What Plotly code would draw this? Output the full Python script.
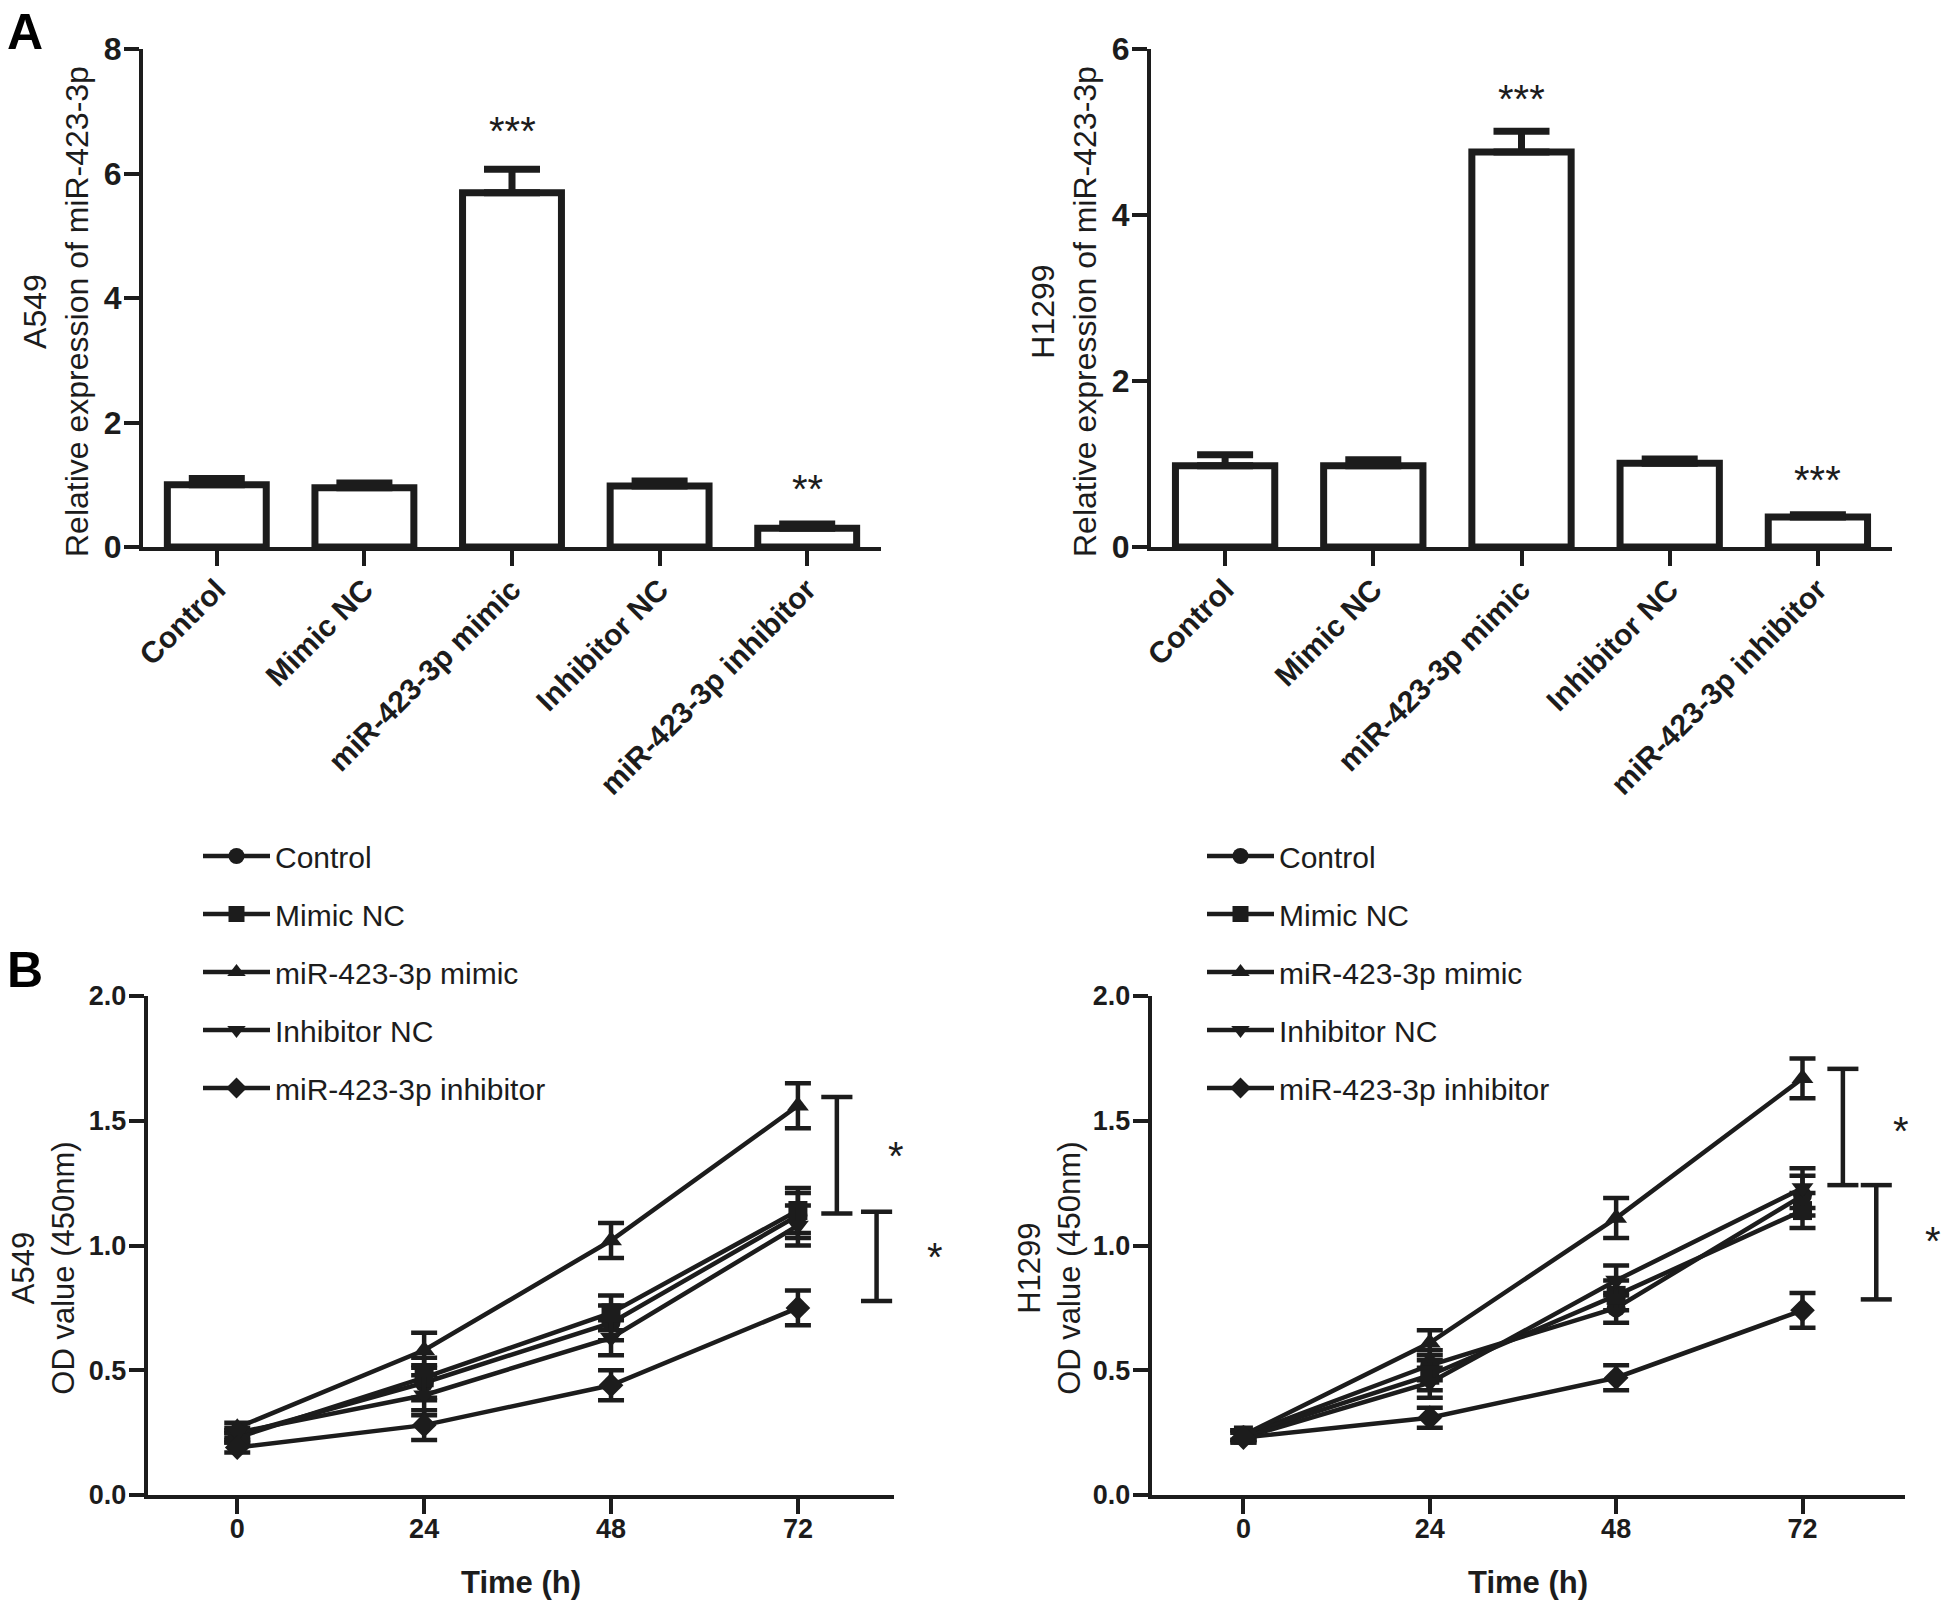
import plotly.graph_objects as go

INK = "#1c1c1c"
FONT = "Liberation Sans, Arial, sans-serif"

# ---------------- Panel A data ----------------
bar_categories = ["Control", "Mimic NC", "miR-423-3p mimic", "Inhibitor NC", "miR-423-3p inhibitor"]
a549_expr = [1.00, 0.95, 5.69, 0.98, 0.30]
a549_expr_err = [0.10, 0.08, 0.38, 0.08, 0.07]
h1299_expr = [0.98, 0.98, 4.76, 1.01, 0.36]
h1299_expr_err = [0.13, 0.07, 0.25, 0.05, 0.03]
# significance marks above bars: (category, y position, text)
a549_stars = [("miR-423-3p mimic", 6.68, "***"), ("miR-423-3p inhibitor", 0.93, "**")]
h1299_stars = [("miR-423-3p mimic", 5.40, "***"), ("miR-423-3p inhibitor", 0.81, "***")]

# ---------------- Panel B data ----------------
time_h = [0, 24, 48, 72]
series_names = ["Control", "Mimic NC", "miR-423-3p mimic", "Inhibitor NC", "miR-423-3p inhibitor"]
series_symbols = ["circle", "square", "triangle-up", "triangle-down", "diamond"]

a549_od = {
    "Control": [0.24, 0.45, 0.69, 1.12],
    "Mimic NC": [0.23, 0.47, 0.73, 1.14],
    "miR-423-3p mimic": [0.27, 0.58, 1.02, 1.56],
    "Inhibitor NC": [0.25, 0.40, 0.63, 1.08],
    "miR-423-3p inhibitor": [0.19, 0.28, 0.44, 0.75],
}
a549_od_err = {
    "Control": [0.02, 0.07, 0.07, 0.09],
    "Mimic NC": [0.02, 0.08, 0.07, 0.09],
    "miR-423-3p mimic": [0.02, 0.07, 0.07, 0.09],
    "Inhibitor NC": [0.02, 0.08, 0.07, 0.08],
    "miR-423-3p inhibitor": [0.02, 0.06, 0.06, 0.07],
}
h1299_od = {
    "Control": [0.24, 0.52, 0.75, 1.20],
    "Mimic NC": [0.24, 0.48, 0.80, 1.14],
    "miR-423-3p mimic": [0.24, 0.61, 1.11, 1.67],
    "Inhibitor NC": [0.23, 0.45, 0.86, 1.23],
    "miR-423-3p inhibitor": [0.23, 0.31, 0.47, 0.74],
}
h1299_od_err = {
    "Control": [0.02, 0.06, 0.06, 0.08],
    "Mimic NC": [0.02, 0.06, 0.06, 0.07],
    "miR-423-3p mimic": [0.02, 0.05, 0.08, 0.08],
    "Inhibitor NC": [0.02, 0.06, 0.06, 0.08],
    "miR-423-3p inhibitor": [0.02, 0.04, 0.05, 0.07],
}

# significance brackets: (x, y_top, y_bottom) and stars (x, y)
a549_brackets = [(77.0, 1.595, 1.128), (82.1, 1.135, 0.778)]
a549_bracket_stars = [(84.6, 1.36), (89.6, 0.955)]
h1299_brackets = [(77.2, 1.708, 1.242), (81.5, 1.242, 0.784)]
h1299_bracket_stars = [(84.7, 1.46), (88.8, 1.02)]

W, H = 1946, 1603


def px(xp):
    return xp / W


def py(yp):
    return 1 - yp / H


fig = go.Figure()

# ---- bars ----
for vals, errs, ax in [(a549_expr, a549_expr_err, ""), (h1299_expr, h1299_expr_err, "2")]:
    fig.add_trace(go.Bar(
        x=bar_categories, y=vals, width=0.67,
        marker=dict(color="white", line=dict(color=INK, width=7)),
        error_y=dict(type="data", array=errs, arrayminus=[0] * len(errs), symmetric=False,
                     thickness=7, width=28, color=INK),
        xaxis="x" + ax, yaxis="y" + ax, showlegend=False,
    ))

# ---- growth curves ----
for data, errd, ax, leg in [(a549_od, a549_od_err, "3", "legend"), (h1299_od, h1299_od_err, "4", "legend2")]:
    for i, (name, sym) in enumerate(zip(series_names, series_symbols)):
        fig.add_trace(go.Scatter(
            x=time_h, y=data[name], name=name, mode="lines+markers",
            line=dict(color=INK, width=4.5),
            marker=dict(symbol=sym, size=19, color=INK),
            error_y=dict(type="data", array=errd[name], thickness=4.5, width=13, color=INK),
            xaxis="x" + ax, yaxis="y" + ax, legend=leg, legendgroup=leg + str(i),
        ))

axis_common = dict(showline=True, linewidth=4, linecolor=INK, ticks="outside", ticklen=15,
                   tickwidth=4, tickcolor=INK, showgrid=False, zeroline=False, automargin=False)

# panel geometry (pixels)
A_top, A_bot = 49, 547
B_top, B_bot = 996, 1495
AL = (143, 881)
AR = (1151, 1892)
BL = (147.7, 893.7)
BR = (1151.8, 1905.0)
B_LEFT_RANGE = [-11.5, 84.3]
B_RIGHT_RANGE = [-11.8, 85.2]

xcat = dict(range=[-0.5, 4.5], tickangle=-45, tickfont=dict(size=30, weight="bold"), ticklabelstandoff=-6)
ybar = dict(tickfont=dict(size=32, weight="bold"), ticklabelstandoff=-4)
xtime = dict(tickvals=time_h, tickfont=dict(size=27, weight="bold"), ticklabelstandoff=-8)
yod = dict(range=[0, 2.0], tickvals=[0, 0.5, 1.0, 1.5, 2.0], tickformat=".1f",
           tickfont=dict(size=27, weight="bold"), ticklabelstandoff=-3)

legend_common = dict(xanchor="left", yanchor="top", font=dict(size=30, color=INK),
                     bgcolor="rgba(0,0,0,0)", tracegroupgap=16, itemwidth=67)

fig.update_layout(
    width=W, height=H, autosize=False,
    margin=dict(l=0, r=0, t=0, b=0, pad=0, autoexpand=False),
    paper_bgcolor="white", plot_bgcolor="white",
    font=dict(family=FONT, color=INK),
    xaxis=dict(domain=[px(AL[0]), px(AL[1])], anchor="y", **xcat, **axis_common),
    yaxis=dict(domain=[py(A_bot), py(A_top)], anchor="x", range=[0, 8], tickvals=[0, 2, 4, 6, 8],
               **ybar, **axis_common),
    xaxis2=dict(domain=[px(AR[0]), px(AR[1])], anchor="y2", **xcat, **axis_common),
    yaxis2=dict(domain=[py(A_bot), py(A_top)], anchor="x2", range=[0, 6], tickvals=[0, 2, 4, 6],
                **ybar, **axis_common),
    xaxis3=dict(domain=[px(BL[0]), px(BL[1])], anchor="y3", range=B_LEFT_RANGE, **xtime, **axis_common),
    yaxis3=dict(domain=[py(B_bot), py(B_top)], anchor="x3", **yod, **axis_common),
    xaxis4=dict(domain=[px(BR[0]), px(BR[1])], anchor="y4", range=B_RIGHT_RANGE, **xtime, **axis_common),
    yaxis4=dict(domain=[py(B_bot), py(B_top)], anchor="x4", **yod, **axis_common),
    legend=dict(x=px(198), y=py(830), **legend_common),
    legend2=dict(x=px(198 + 1004), y=py(830), **legend_common),
)

annotations = []
C = dict(xanchor="center", yanchor="middle", showarrow=False)
# panel letters
annotations.append(dict(text="A", x=px(25), y=py(32), xref="paper", yref="paper",
                        font=dict(size=50, weight="bold", color="black"), **C))
annotations.append(dict(text="B", x=px(25), y=py(970), xref="paper", yref="paper",
                        font=dict(size=50, weight="bold", color="black"), **C))
# y titles
annotations.append(dict(text="A549<br>Relative expression of miR-423-3p", x=px(AL[0] - 87), y=py(312),
                        xref="paper", yref="paper", textangle=-90, font=dict(size=32), **C))
annotations.append(dict(text="H1299<br>Relative expression of miR-423-3p", x=px(AR[0] - 87), y=py(312),
                        xref="paper", yref="paper", textangle=-90, font=dict(size=32), **C))
annotations.append(dict(text="A549<br>OD value (450nm)", x=px(BL[0] - 105), y=py(1268),
                        xref="paper", yref="paper", textangle=-90, font=dict(size=31), **C))
annotations.append(dict(text="H1299<br>OD value (450nm)", x=px(BR[0] - 103), y=py(1268),
                        xref="paper", yref="paper", textangle=-90, font=dict(size=31), **C))
# x titles
annotations.append(dict(text="Time (h)", x=0.5, y=py(1582), xref="x3 domain", yref="paper",
                        font=dict(size=31, weight="bold"), **C))
annotations.append(dict(text="Time (h)", x=0.5, y=py(1582), xref="x4 domain", yref="paper",
                        font=dict(size=31, weight="bold"), **C))
# stars on bars
for stars, ax in [(a549_stars, ""), (h1299_stars, "2")]:
    for cat, yv, txt in stars:
        annotations.append(dict(text=txt, x=cat, y=yv, xref="x" + ax, yref="y" + ax,
                                font=dict(size=40), **C))
# brackets
shapes = []
for brs, sts, ax, rng in [(a549_brackets, a549_bracket_stars, "3", B_LEFT_RANGE),
                          (h1299_brackets, h1299_bracket_stars, "4", B_RIGHT_RANGE)]:
    for bx, y0, y1 in brs:
        line = dict(color=INK, width=4.5)
        shapes.append(dict(type="line", xref="x" + ax, yref="y" + ax, x0=bx, x1=bx, y0=y0, y1=y1, line=line))
        shapes.append(dict(type="line", xref="x" + ax, yref="y" + ax, x0=bx - 2.0, x1=bx + 2.0, y0=y0, y1=y0, line=line))
        shapes.append(dict(type="line", xref="x" + ax, yref="y" + ax, x0=bx - 2.0, x1=bx + 2.0, y0=y1, y1=y1, line=line))
    for sx, sy in sts:
        # stars lie beyond the axis end, so place them in axis-domain units
        frac = (sx - rng[0]) / (rng[1] - rng[0])
        annotations.append(dict(text="*", x=frac, y=sy, xref="x" + ax + " domain", yref="y" + ax,
                                font=dict(size=40), **C))

fig.update_layout(annotations=annotations, shapes=shapes)
fig.write_html("out.html", config={"responsive": False, "displayModeBar": False},
               post_script="document.body.style.margin='0';")
